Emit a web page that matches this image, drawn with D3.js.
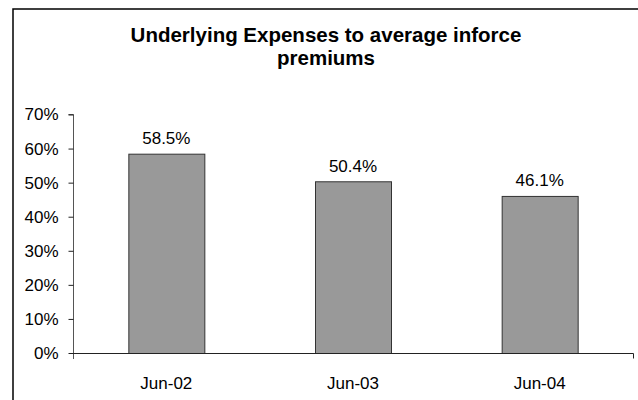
<!DOCTYPE html>
<html>
<head>
<meta charset="utf-8">
<script src="https://cdn.jsdelivr.net/npm/d3@7"></script>
<style>
html,body{margin:0;padding:0;background:#fff;}
svg{display:block;font-family:"Liberation Sans",Arial,sans-serif;}
</style>
</head>
<body>
<svg id="chart" width="638" height="400"></svg>
<script>
const categories = ["Jun-02", "Jun-03", "Jun-04"];
const values = [0.585, 0.504, 0.461];
const dataLabels = ["58.5%", "50.4%", "46.1%"];
const yTicks = [0, 0.1, 0.2, 0.3, 0.4, 0.5, 0.6, 0.7];
const titleLines = ["Underlying Expenses to average inforce", "premiums"];

const FONT = "'Liberation Sans',Arial,sans-serif";
const svg = d3.select("#chart");
const W = 638, H = 400;
const plot = {left: 73, right: 633, top: 114.5, bottom: 353};

// outer frame (extends past right and bottom edges)
svg.append("rect")
  .attr("x", 13).attr("y", 9)
  .attr("width", W + 20).attr("height", H + 20)
  .attr("fill", "none").attr("stroke", "#000").attr("stroke-width", 1.5);

const x = d3.scaleBand().domain(categories).range([plot.left, plot.right]).paddingInner(0).paddingOuter(0);
const y = d3.scaleLinear().domain([0, 0.7]).range([plot.bottom, plot.top]);

// title
svg.append("text")
  .attr("x", 326).attr("y", 41.5)
  .attr("text-anchor", "middle")
  .attr("font-size", 20.5).attr("font-weight", "bold").attr("fill", "#000")
  .selectAll("tspan").data(titleLines).join("tspan")
  .attr("x", 326).attr("dy", (d, i) => i === 0 ? 0 : 23)
  .text(d => d);

// y axis
const yAxis = d3.axisLeft(y).tickValues(yTicks).tickFormat(d3.format(".0%")).tickSize(5).tickPadding(10);
const gy = svg.append("g").attr("transform", `translate(${plot.left + 0.5},0)`).call(yAxis);
gy.attr("font-family", FONT).attr("font-size", 17);
gy.select(".domain").attr("stroke", "#555").attr("d", `M-5,${plot.top}H0V${plot.bottom + 6}`);
gy.selectAll(".tick line").attr("stroke", "#222");
gy.selectAll(".tick text").attr("font-size", 17).attr("fill", "#000").attr("font-family", FONT);

// bars
const bw = 76;
svg.append("g").selectAll("rect").data(values).join("rect")
  .attr("x", (d, i) => x(categories[i]) + x.bandwidth() / 2 - bw / 2 + 0.5)
  .attr("y", d => y(d) + 0.5)
  .attr("width", bw)
  .attr("height", d => y(0) - y(d))
  .attr("fill", "#999999")
  .attr("stroke", "#333").attr("stroke-width", 1);

// x axis
const xAxis = d3.axisBottom(x).tickSize(0).tickPadding(0).tickFormat(d => d);
const gx = svg.append("g").attr("transform", `translate(0,${plot.bottom + 0.5})`).call(xAxis);
gx.attr("font-family", FONT).attr("font-size", 17);
gx.select(".domain").remove();
gx.append("line").attr("x1", plot.left).attr("x2", plot.right + 0.5).attr("y1", 0).attr("y2", 0).attr("stroke", "#222");
gx.append("line").attr("x1", plot.right + 0.5).attr("x2", plot.right + 0.5).attr("y1", 0).attr("y2", 5).attr("stroke", "#222");
gx.selectAll(".tick text").attr("font-size", 17).attr("fill", "#000").attr("dy", 0).attr("y", 35)
  .attr("font-family", FONT);

// data labels
svg.append("g").selectAll("text").data(values).join("text")
  .attr("x", (d, i) => x(categories[i]) + x.bandwidth() / 2)
  .attr("y", d => y(d) - 9.5)
  .attr("text-anchor", "middle")
  .attr("font-family", FONT)
  .attr("font-size", 17).attr("fill", "#000")
  .text((d, i) => dataLabels[i]);
</script>
</body>
</html>
